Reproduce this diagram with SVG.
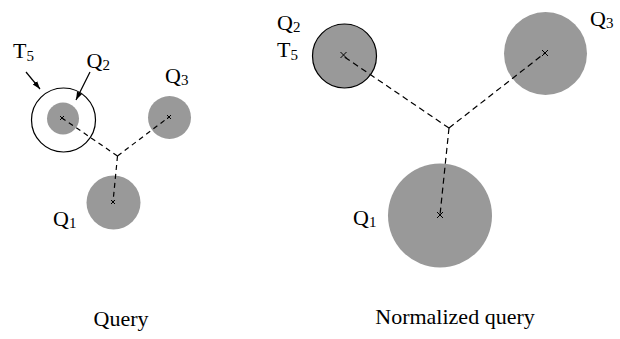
<svg xmlns="http://www.w3.org/2000/svg" width="620" height="339" viewBox="0 0 620 339">
<defs>
<style>
.lbl{font-family:"Liberation Serif","Times New Roman",serif;font-size:22px;fill:#000}
.sub{font-size:15px}
.disc{fill:#999999;stroke:none}
.dash{stroke:#000;stroke-width:1.2;fill:none}
.x{stroke:#000;stroke-width:1;fill:none}
.arr{stroke:#000;stroke-width:1.2;fill:none;marker-end:url(#ah)}
</style>
<marker id="ah" viewBox="0 0 10 10" refX="10" refY="5" markerWidth="8" markerHeight="8" markerUnits="userSpaceOnUse" orient="auto">
<path d="M0,1.5 L10,5 L0,8.5 z" fill="#000"/>
</marker>
</defs>
<rect width="620" height="339" fill="#fff"/>

<g id="q-T5">
<circle cx="63.5" cy="120" r="32" fill="#fff" stroke="#000" stroke-width="1.2"/>
<text class="lbl" x="13" y="58">T<tspan class="sub" dy="3">5</tspan></text>
</g>
<g id="q-Q2">
<circle cx="63" cy="118.5" r="16" class="disc"/>
<path d="M60,116 l4,4 M64,116 l-4,4" class="x"/>
<text class="lbl" x="86.5" y="68">Q<tspan class="sub" dy="2">2</tspan></text>
</g>
<g id="q-Q3">
<circle cx="169.5" cy="117.5" r="21.5" class="disc"/>
<path d="M167,115 l4,4 M171,115 l-4,4" class="x"/>
<text class="lbl" x="165" y="83">Q<tspan class="sub" dy="2">3</tspan></text>
</g>
<g id="q-Q1">
<circle cx="113.5" cy="202.5" r="27" class="disc"/>
<path d="M111,200 l4,4 M115,200 l-4,4" class="x"/>
<text class="lbl" x="53" y="226">Q<tspan class="sub" dy="2">1</tspan></text>
</g>

<g id="n-Q2T5">
<circle cx="344.5" cy="56" r="32" fill="#999999" stroke="#000" stroke-width="1.2"/>
<path d="M340.5,52 l6,6 M346.5,52 l-6,6" class="x"/>
<text class="lbl" x="277" y="30">Q<tspan class="sub" dy="2">2</tspan></text>
<text class="lbl" x="277" y="57">T<tspan class="sub" dy="3">5</tspan></text>
</g>
<g id="n-Q3">
<circle cx="545.5" cy="53.5" r="41.5" class="disc"/>
<path d="M542,50 l6,6 M548,50 l-6,6" class="x"/>
<text class="lbl" x="590" y="26">Q<tspan class="sub" dy="2">3</tspan></text>
</g>
<g id="n-Q1">
<circle cx="440" cy="215.5" r="52" class="disc"/>
<path d="M437,212 l6,6 M443,212 l-6,6" class="x"/>
<text class="lbl" x="353" y="225">Q<tspan class="sub" dy="2">1</tspan></text>
</g>

<g id="connectors">
<line x1="117.5" y1="156" x2="62" y2="118" class="dash" stroke-dasharray="5,4"/>
<line x1="117.5" y1="156" x2="169" y2="117" class="dash" stroke-dasharray="5,4"/>
<line x1="117.5" y1="156" x2="113" y2="202" class="dash" stroke-dasharray="5,4"/>
<line x1="449" y1="128" x2="343" y2="56" class="dash" stroke-dasharray="6,4"/>
<line x1="449" y1="128" x2="545" y2="53" class="dash" stroke-dasharray="6,4"/>
<line x1="449" y1="128" x2="440" y2="215" class="dash" stroke-dasharray="6,4"/>
<line x1="26" y1="72" x2="40" y2="89" class="arr"/>
<line x1="90" y1="72" x2="76" y2="100" class="arr"/>
</g>

<text class="lbl" x="121" y="326" text-anchor="middle">Query</text>
<text class="lbl" x="455" y="324" text-anchor="middle">Normalized query</text>
</svg>
